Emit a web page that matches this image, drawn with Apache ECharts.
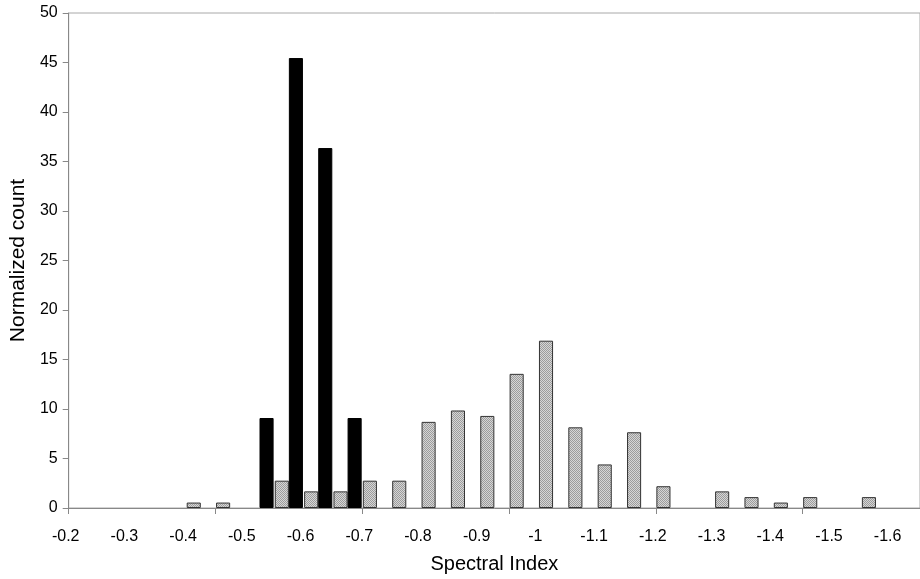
<!DOCTYPE html>
<html>
<head>
<meta charset="utf-8">
<script src="https://cdn.jsdelivr.net/npm/echarts@6/dist/echarts.min.js"></script>
<style>
  html, body { margin: 0; padding: 0; background: #fff; }
  #chart { width: 920px; height: 579px; }
</style>
</head>
<body>
<div id="chart"></div>
<script>
// bins of width 0.05, named by their left edge
var bins = ['-0.2', '-0.25', '-0.3', '-0.35', '-0.4', '-0.45', '-0.5', '-0.55', '-0.6', '-0.65',
  '-0.7', '-0.75', '-0.8', '-0.85', '-0.9', '-0.95', '-1', '-1.05', '-1.1', '-1.15',
  '-1.2', '-1.25', '-1.3', '-1.35', '-1.4', '-1.45', '-1.5', '-1.55', '-1.6'];
// tick labels sit on every second bin edge
var tickLabels = ['-0.2', '-0.3', '-0.4', '-0.5', '-0.6', '-0.7', '-0.8', '-0.9', '-1',
  '-1.1', '-1.2', '-1.3', '-1.4', '-1.5', '-1.6'];
var grayCounts = [null, null, null, null, 0.55, 0.55, null, 2.76, 1.68, 1.68,
  2.76, 2.76, 8.7, 9.85, 9.3, 13.55, 16.9, 8.15, 4.4, 7.65,
  2.2, null, 1.68, 1.1, 0.55, 1.1, null, 1.1, null];
var blackCounts = [null, null, null, null, null, null, 9.09, 45.45, 36.36, 9.09,
  null, null, null, null, null, null, null, null, null, null,
  null, null, null, null, null, null, null, null, null];

// dithered grey fill like the original
var pat = document.createElement('canvas');
pat.width = 2; pat.height = 2;
var pctx = pat.getContext('2d');
pctx.fillStyle = '#d6d6d6'; pctx.fillRect(0, 0, 2, 2);
pctx.fillStyle = '#9c9c9c'; pctx.fillRect(0, 0, 1, 1); pctx.fillRect(1, 1, 1, 1);

var font = 'Liberation Sans, Arial, sans-serif';
var myChart = echarts.init(document.getElementById('chart'));
myChart.setOption({
  animation: false,
  backgroundColor: '#fff',
  textStyle: { fontFamily: font, color: '#000' },
  grid: {
    left: 66, right: -5, top: 13, bottom: 71,
    show: true, borderColor: '#a8a8a8', borderWidth: 1
  },
  xAxis: [
    {
      type: 'category',
      data: bins,
      boundaryGap: true,
      name: 'Spectral Index',
      nameLocation: 'middle',
      nameGap: 46,
      nameTextStyle: { fontSize: 20, color: '#000', fontFamily: font },
      axisLine: { lineStyle: { color: '#888', width: 1 } },
      axisTick: { show: true, interval: 4, length: 6, lineStyle: { color: '#888' } },
      axisLabel: { show: false },
      splitLine: { show: false }
    },
    {
      type: 'value',
      position: 'bottom',
      min: 0,
      max: 29,
      interval: 2,
      axisLine: { show: false },
      axisTick: { show: false },
      splitLine: { show: false },
      axisLabel: {
        margin: 21,
        fontSize: 16,
        color: '#000',
        fontFamily: font,
        padding: [0, 6, 0, 0],
        showMaxLabel: false,
        formatter: function (v) { return tickLabels[v / 2] || ''; }
      }
    }
  ],
  yAxis: {
    type: 'value',
    min: 0,
    max: 50,
    interval: 5,
    name: 'Normalized count',
    nameLocation: 'middle',
    nameGap: 31,
    nameTextStyle: { fontSize: 21, color: '#000', fontFamily: font },
    axisLine: { show: true, lineStyle: { color: '#888', width: 1 } },
    axisTick: { show: true, length: 6, lineStyle: { color: '#888' } },
    axisLabel: { fontSize: 16, color: '#000', margin: 11, fontFamily: font },
    splitLine: { show: false }
  },
  series: [
    {
      name: 'gray',
      type: 'bar',
      xAxisIndex: 0,
      data: grayCounts,
      barGap: '0%',
      barCategoryGap: '4%',
      itemStyle: { color: { image: pat, repeat: 'repeat' }, borderColor: '#333', borderWidth: 1 }
    },
    {
      name: 'black',
      type: 'bar',
      xAxisIndex: 0,
      data: blackCounts,
      barGap: '0%',
      barCategoryGap: '4%',
      itemStyle: { color: '#000', borderColor: '#000', borderWidth: 1 }
    }
  ]
});
</script>
</body>
</html>
